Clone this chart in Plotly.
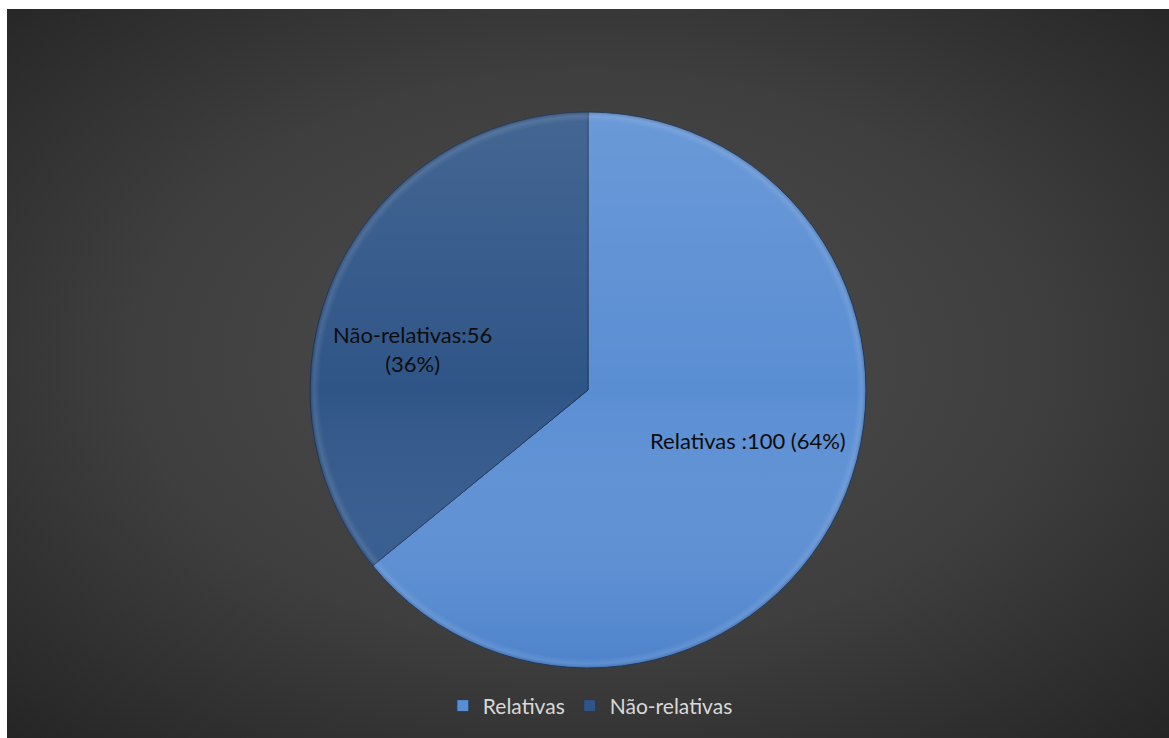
import base64
import plotly.graph_objects as go

# Data
categories = ["Relativas", "Não-relativas"]
values = [100, 56]
label_names = ["Relativas ", "Não-relativas"]
slice_colors = ["#5a8ed3", "#2f5587"]

W, H = 1169, 738
total = sum(values)


def px_x(px):
    return px / W


def px_y(py):
    return 1 - py / H


def svg_uri(svg):
    return "data:image/svg+xml;base64," + base64.b64encode(svg.encode("utf-8")).decode("ascii")


# Dark radial-gradient chart area
bg_svg = (
    "<svg xmlns='http://www.w3.org/2000/svg' width='1162' height='729' viewBox='0 0 1162 729' preserveAspectRatio='none'>"
    "<defs><radialGradient id='g' cx='50%' cy='48%' r='72%'>"
    "<stop offset='0' stop-color='#4e4e4e'/>"
    "<stop offset='0.55' stop-color='#3e3e3e'/>"
    "<stop offset='1' stop-color='#252525'/>"
    "</radialGradient></defs>"
    "<rect x='0' y='0' width='1162' height='729' fill='url(#g)'/></svg>"
)

# Soft vertical shading over the pie disc
cx, cy, r = 588, 390, 278
shade_svg = (
    "<svg xmlns='http://www.w3.org/2000/svg' width='556' height='556' viewBox='0 0 556 556' preserveAspectRatio='none'>"
    "<defs><linearGradient id='s' x1='0' y1='0' x2='0' y2='1'>"
    "<stop offset='0' stop-color='#ffffff' stop-opacity='0.10'/>"
    "<stop offset='0.5' stop-color='#ffffff' stop-opacity='0'/>"
    "<stop offset='1' stop-color='#1f5bb0' stop-opacity='0.22'/>"
    "</linearGradient>"
    "<radialGradient id='e' cx='50%' cy='50%' r='50%'>"
    "<stop offset='0.965' stop-color='#ffffff' stop-opacity='0'/>"
    "<stop offset='0.985' stop-color='#ffffff' stop-opacity='0.10'/>"
    "<stop offset='1' stop-color='#000000' stop-opacity='0.15'/>"
    "</radialGradient></defs>"
    "<circle cx='278' cy='278' r='278' fill='url(#s)'/>"
    "<circle cx='278' cy='278' r='278' fill='url(#e)'/></svg>"
)

fig = go.Figure(
    go.Pie(
        labels=categories,
        values=values,
        sort=False,
        direction="clockwise",
        rotation=0,
        textinfo="none",
        hoverinfo="label+value+percent",
        marker=dict(colors=slice_colors, line=dict(color="#22385a", width=1)),
        domain=dict(x=[px_x(cx - r), px_x(cx + r)], y=[px_y(cy + r), px_y(cy - r)]),
        showlegend=True,
    )
)

# Data labels built from the values
label_pos = [(748, 440), (412, 349)]
label_text = [
    f"{label_names[0]}:{values[0]} ({round(100 * values[0] / total)}%)",
    f"{label_names[1]}:{values[1]}<br>({round(100 * values[1] / total)}%)",
]
for (lx, ly), txt in zip(label_pos, label_text):
    fig.add_annotation(
        x=px_x(lx), y=px_y(ly), xref="paper", yref="paper",
        text=txt, showarrow=False, align="center",
        font=dict(family="Lato, Open Sans, sans-serif", size=22, color="#0d0d0d"),
    )

fig.update_layout(
    width=W,
    height=H,
    margin=dict(l=0, r=0, t=0, b=0),
    paper_bgcolor="#ffffff",
    plot_bgcolor="rgba(0,0,0,0)",
    images=[
        dict(source=svg_uri(bg_svg), xref="paper", yref="paper",
             x=px_x(7), y=px_y(9), sizex=px_x(W) - px_x(7), sizey=px_y(9) - px_y(H),
             xanchor="left", yanchor="top", sizing="stretch", layer="below"),
        dict(source=svg_uri(shade_svg), xref="paper", yref="paper",
             x=px_x(cx - r), y=px_y(cy - r), sizex=px_x(2 * r), sizey=2 * r / H,
             xanchor="left", yanchor="top", sizing="stretch", layer="above"),
    ],
    legend=dict(
        orientation="h",
        x=0.505, xanchor="center",
        y=px_y(706), yanchor="middle",
        font=dict(family="Lato, Open Sans, sans-serif", size=21, color="#d9d9d9"),
        bgcolor="rgba(0,0,0,0)",
        itemwidth=30,
    ),
)

fig.write_html("out.html")
